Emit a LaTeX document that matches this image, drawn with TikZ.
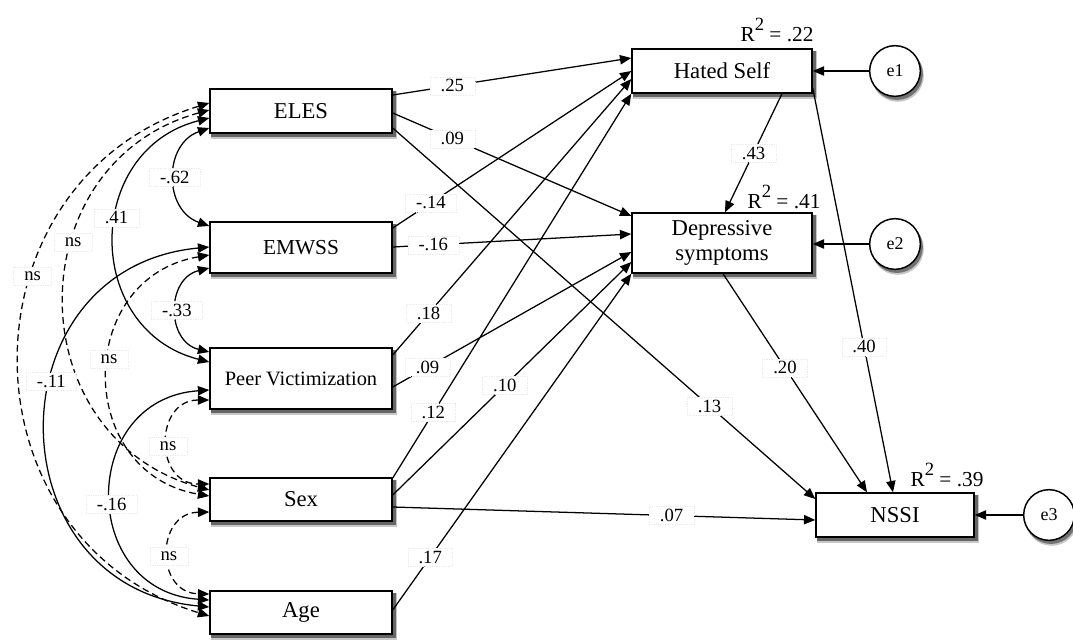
\documentclass[tikz,border=0pt]{standalone}
\usepackage{fontspec}
\setmainfont{Liberation Serif}
\usetikzlibrary{arrows.meta}
\pgfdeclarelayer{background}
\pgfsetlayers{background,main}
\newcommand{\Rsq}[1]{R\raisebox{0.5em}{\fontsize{14}{14}\selectfont 2} = #1}
\newcommand{\boxshadow}[1]{%
  \fill[black!22] ([xshift=1.5pt,yshift=-4pt]#1.south west) rectangle ([xshift=3.5pt,yshift=-2pt]#1.north east);
  \fill[black!60] ([xshift=1.5pt,yshift=-2.8pt]#1.south west) rectangle ([xshift=2.2pt,yshift=-2pt]#1.north east);}
\newcommand{\circshadow}[1]{%
  \fill[black!22] ([xshift=2pt,yshift=-3.5pt]#1.center) circle (19.6pt);
  \fill[black!55] ([xshift=1.5pt,yshift=-2.3pt]#1.center) circle (19.4pt);}
\begin{document}
\begin{tikzpicture}[x=0.75pt,y=-0.75pt,
  box/.style={draw,line width=1.1pt,fill=white,inner sep=0pt,align=center,
    font=\fontsize{17}{19}\selectfont},
  err/.style={draw,circle,line width=1.1pt,fill=white,minimum size=38pt,inner sep=0pt,
    font=\fontsize{13.5}{15}\selectfont},
  lbl/.style={fill=white,draw=black!8,densely dotted,line width=0.3pt,inner xsep=8pt,inner ysep=1pt,
    minimum height=13.5pt,font=\fontsize{14}{15}\selectfont},
  r2/.style={inner sep=1pt,font=\fontsize{16}{18}\selectfont},
  arr/.style={line width=0.95pt,-{Triangle[length=8.5pt,width=7pt]}},
  dbl/.style={line width=0.95pt,{Triangle[length=8.5pt,width=7pt]}-{Triangle[length=8.5pt,width=7pt]}},
  dsh/.style={dash pattern=on 5pt off 3pt}
]
\useasboundingbox (0,0) rectangle (1073,639);

% nodes
\node[box,minimum width=136.5pt,minimum height=33pt] (ELES) at (301,111) {ELES};
\node[box,minimum width=136.5pt,minimum height=38.25pt,font=\fontsize{16}{18}\selectfont] (EMWSS) at (301,247.5) {EMWSS};
\node[box,minimum width=136.5pt,minimum height=45.75pt,font=\fontsize{15.3}{17}\selectfont] (PV) at (301,378.5) {Peer Victimization};
\node[box,minimum width=136.5pt,minimum height=32.25pt] (Sex) at (301,499.5) {Sex};
\node[box,minimum width=136.5pt,minimum height=32.25pt] (Age) at (301,612.5) {Age};
\node[box,minimum width=135pt,minimum height=33pt] (Hated) at (722,71) {Hated Self};
\node[box,minimum width=135pt,minimum height=45pt] (Dep) at (722,243) {Depressive\\symptoms};
\node[box,minimum width=118.5pt,minimum height=33pt] (NSSI) at (895,515) {NSSI};
\node[err] (e1) at (895,71) {e1};
\node[err] (e2) at (895,244) {e2};
\node[err] (e3) at (1049,515) {e3};

\begin{pgfonlayer}{background}
  \boxshadow{ELES}\boxshadow{EMWSS}\boxshadow{PV}\boxshadow{Sex}\boxshadow{Age}
  \boxshadow{Hated}\boxshadow{Dep}\boxshadow{NSSI}
  \circshadow{e1}\circshadow{e2}\circshadow{e3}
\end{pgfonlayer}

\node[r2] (r2a) at (777,30) {\Rsq{.22}};
\node[r2] (r2b) at (784,197) {\Rsq{.41}};
\node[r2] (r2c) at (947,475) {\Rsq{.39}};

% directed paths
\draw[arr] (ELES.east |- 0,95) -- node[lbl,pos=0.25]{.25} (Hated.west |- 0,58);
\draw[arr] (ELES.east |- 0,113) -- node[lbl,pos=0.25]{.09} (Dep.west |- 0,216);
\draw[arr] (ELES.east |- 0,128) -- node[lbl,pos=0.75]{.13} (NSSI.west |- 0,499);
\draw[arr] (EMWSS.east |- 0,228) -- node[lbl,pos=0.16]{-.14} (Hated.west |- 0,71);
\draw[arr] (EMWSS.east |- 0,247) -- node[lbl,pos=0.17]{-.16} (Dep.west |- 0,234);
\draw[arr] (PV.east |- 0,355) -- node[lbl,pos=0.15]{.18} (Hated.west |- 0,79);
\draw[arr] (PV.east |- 0,387) -- node[lbl,pos=0.146]{.09} (Dep.west |- 0,252);
\draw[arr] (Sex.east |- 0,478) -- node[lbl,pos=0.17]{.12} (Hated.south west);
\draw[arr] (Sex.east |- 0,495) -- node[lbl,pos=0.47]{.10} (Dep.west |- 0,262);
\draw[arr] (Sex.east |- 0,507) -- node[lbl,pos=0.66]{.07} (NSSI.west |- 0,520);
\draw[arr] (Age.east |- 0,610) -- node[lbl,pos=0.157]{.17} (Dep.south west);
\draw[arr] (Hated.south -| 782,0) -- node[lbl]{.43} (Dep.north -| 725,0);
\draw[arr] (Hated.east |- 0,88) -- node[lbl,pos=0.64]{.40} (NSSI.north -| 893,0);
\draw[arr] (Dep.south -| 723,0) -- node[lbl,pos=0.43]{.20} (NSSI.north -| 867,0);
\draw[arr] (e1) -- (Hated);
\draw[arr] (e2) -- (Dep.east |- e2);
\draw[arr] (e3) -- (NSSI);

% covariances
\draw[dbl] (ELES.west |- 0,128) .. controls (163.3,144) and (163.3,210) .. node[lbl,pos=0.5]{-.62} (EMWSS.west |- 0,226);
\draw[dbl] (ELES.west |- 0,118) .. controls (83.1,150) and (83.1,330) .. node[lbl,pos=0.43]{.41} (PV.west |- 0,362);
\draw[dbl,dsh] (ELES.west |- 0,110) .. controls (16.7,162.9) and (16.7,437.1) .. node[lbl,pos=0.38]{ns} (Sex.west |- 0,490);
\draw[dbl,dsh] (ELES.west |- 0,103) .. controls (-43.4,180.2) and (-43.4,538.8) .. node[lbl,pos=0.37]{ns} (Age.west |- 0,616);
\draw[dbl] (EMWSS.west |- 0,268) .. controls (166,278.7) and (166,341.3) .. node[lbl,pos=0.5]{-.33} (PV.west |- 0,352);
\draw[dbl,dsh] (EMWSS.west |- 0,255) .. controls (74.2,277.7) and (74.2,473.3) .. node[lbl,pos=0.45]{ns} (Sex.west |- 0,496);
\draw[dbl] (EMWSS.west |- 0,247) .. controls (-8.4,267.4) and (-8.4,586.6) .. node[lbl,pos=0.41]{-.11} (Age.west |- 0,607);
\draw[dbl,dsh] (PV.west |- 0,400) .. controls (154,400) and (154,484) .. node[lbl,pos=0.53]{ns} (Sex.west |- 0,484);
\draw[dbl] (PV.west |- 0,390) .. controls (78.6,399) and (78.6,591) .. node[lbl,pos=0.53]{-.16} (Age.west |- 0,600);
\draw[dbl,dsh] (Sex.west |- 0,512) .. controls (155.3,513) and (155.3,593) .. node[lbl,pos=0.53]{ns} (Age.west |- 0,594);
\end{tikzpicture}
\end{document}
